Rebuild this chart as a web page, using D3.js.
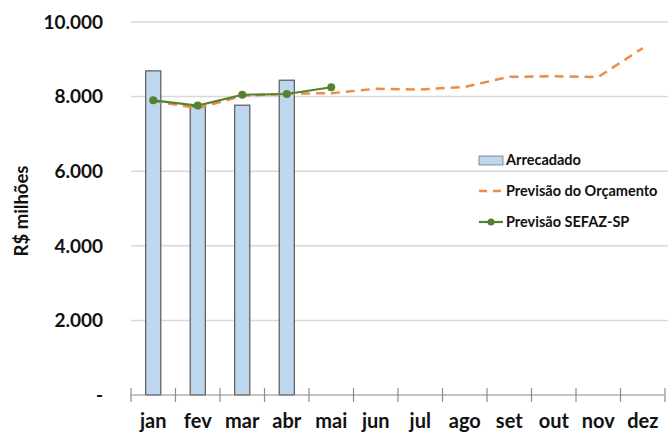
<!DOCTYPE html>
<html><head><meta charset="utf-8">
<script src="https://cdn.jsdelivr.net/npm/d3@7"></script>
<style>
body{margin:0;background:#fff;}
svg{display:block;font-family:Lato,"Open Sans",sans-serif;}
</style></head>
<body><svg id="c" width="672" height="432"></svg>
<script>
const months = ["jan","fev","mar","abr","mai","jun","jul","ago","set","out","nov","dez"];
const arrecadado = [8690, 7730, 7770, 8440];
const previsaoOrcamento = [7880, 7690, 8020, 8080, 8090, 8210, 8190, 8260, 8530, 8545, 8525, 9300];
const previsaoSefaz = [7900, 7760, 8050, 8070, 8250];
const yTicks = [0, 2000, 4000, 6000, 8000, 10000];
const yTickLabels = ["-", "2.000", "4.000", "6.000", "8.000", "10.000"];
const legendLabels = ["Arrecadado", "Previsão do Orçamento", "Previsão SEFAZ-SP"];

const svg = d3.select("#c");
const x = d3.scaleBand().domain(months).range([131, 665]).paddingInner(0.66).paddingOuter(0.33);
const xc = m => x(m) + x.bandwidth() / 2;
const y = d3.scaleLinear().domain([0, 10000]).range([395, 22]);

// gridlines
svg.append("g").selectAll("line").data(yTicks.filter(d => d > 0)).join("line")
  .attr("x1", 131).attr("x2", 668).attr("y1", d => y(d)).attr("y2", d => y(d))
  .attr("stroke", "#d9d9d9").attr("stroke-width", 1.5);

// y labels
svg.append("g").selectAll("text").data(yTicks).join("text")
  .attr("x", 103).attr("y", d => y(d)).attr("dy", "0.36em").attr("text-anchor", "end")
  .attr("font-size", 19).attr("font-weight", 700).attr("fill", "#111")
  .text((d, i) => yTickLabels[i]);

svg.append("text").attr("transform", "translate(28,211) rotate(-90)")
  .attr("text-anchor", "middle").attr("font-size", 18.5).attr("font-weight", 700).attr("fill", "#111")
  .text("R$ milhões");

// bars
svg.append("g").selectAll("rect").data(arrecadado).join("rect")
  .attr("x", (d, i) => x(months[i])).attr("width", x.bandwidth())
  .attr("y", d => y(d)).attr("height", d => y(0) - y(d))
  .attr("fill", "#bdd7ee").attr("stroke", "#4d4d4d").attr("stroke-width", 1.1);

// x axis
const bounds = d3.range(months.length + 1).map(i => x.range()[0] + i * x.step());
svg.append("line").attr("x1", 131).attr("x2", 665).attr("y1", y(0)).attr("y2", y(0))
  .attr("stroke", "#8c8c8c").attr("stroke-width", 1.2);
svg.append("g").selectAll("line").data(bounds).join("line")
  .attr("x1", d => d).attr("x2", d => d).attr("y1", y(0) - 7).attr("y2", y(0) + 7)
  .attr("stroke", "#8c8c8c").attr("stroke-width", 1.2);
const xAxis = d3.axisBottom(x).tickSize(0).tickPadding(0);
const gx = svg.append("g").attr("transform", `translate(0,${y(0) + 16})`).call(xAxis);
gx.select(".domain").remove();
gx.selectAll("text").attr("font-size", 20).attr("font-weight", 700).attr("fill", "#111")
  .attr("font-family", "Lato, sans-serif").attr("dy", "0.85em");

// orange dashed line
const line = d3.line().x((d, i) => xc(months[i])).y(d => y(d));
svg.append("path").datum(previsaoOrcamento).attr("d", line)
  .attr("fill", "none").attr("stroke", "#f08a45").attr("stroke-width", 2.5).attr("stroke-dasharray", "9,6");

// green line
svg.append("path").datum(previsaoSefaz).attr("d", line)
  .attr("fill", "none").attr("stroke", "#548235").attr("stroke-width", 2.2);
svg.append("g").selectAll("circle").data(previsaoSefaz).join("circle")
  .attr("cx", (d, i) => xc(months[i])).attr("cy", d => y(d)).attr("r", 4)
  .attr("fill", "#548235");

// legend
const lg = svg.append("g");
const rows = [160, 191, 222];
lg.append("rect").attr("x", 479).attr("y", rows[0] - 4).attr("width", 24).attr("height", 9)
  .attr("fill", "#bdd7ee").attr("stroke", "#777").attr("stroke-width", 0.8);
lg.append("line").attr("x1", 479).attr("x2", 503).attr("y1", rows[1]).attr("y2", rows[1])
  .attr("stroke", "#f08a45").attr("stroke-width", 2.5).attr("stroke-dasharray", "8,6");
lg.append("line").attr("x1", 479).attr("x2", 503).attr("y1", rows[2]).attr("y2", rows[2])
  .attr("stroke", "#548235").attr("stroke-width", 2.2);
lg.append("circle").attr("cx", 491).attr("cy", rows[2]).attr("r", 3.5).attr("fill", "#548235");
lg.selectAll("text").data(legendLabels).join("text")
  .attr("x", 506).attr("y", (d, i) => rows[i]).attr("dy", "0.35em")
  .attr("font-size", 14.5).attr("font-weight", 700).attr("fill", "#111").text(d => d);
</script></body></html>
